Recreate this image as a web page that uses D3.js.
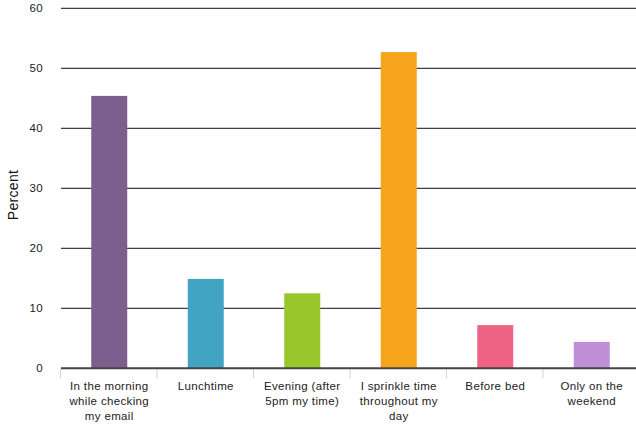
<!DOCTYPE html>
<html>
<head>
<meta charset="utf-8">
<script src="https://cdn.jsdelivr.net/npm/d3@7"></script>
<style>
  html, body { margin: 0; padding: 0; background: #fff; }
  svg { display: block; font-family: "Liberation Sans", Arial, Helvetica, sans-serif; }
</style>
</head>
<body>
<svg id="chart" width="636" height="425"></svg>
<script>
// When people take time for this: share of respondents, in percent
const categories = [
  ["In the morning", "while checking", "my email"],
  ["Lunchtime"],
  ["Evening (after", "5pm my time)"],
  ["I sprinkle time", "throughout my", "day"],
  ["Before bed"],
  ["Only on the", "weekend"]
];
const values = [45.4, 14.9, 12.5, 52.7, 7.2, 4.4];
const colors = ["#7C5F8E", "#41A4C3", "#97C72A", "#F5A41C", "#EF6485", "#BF90D8"];
const yTicks = [0, 10, 20, 30, 40, 50, 60];
const yTitle = "Percent";

const svg = d3.select("#chart");
const plotLeft = 61, plotRight = 640, plotTop = 8.3, plotBottom = 368.3;

const x = d3.scaleBand()
  .domain(d3.range(values.length))
  .range([plotLeft, plotRight])
  .paddingInner(0)
  .paddingOuter(0);

const y = d3.scaleLinear().domain([0, 60]).range([plotBottom, plotTop]);

// horizontal grid lines
svg.append("g")
  .selectAll("line")
  .data(yTicks.filter(d => d > 0))
  .join("line")
  .attr("x1", plotLeft).attr("x2", 636)
  .attr("y1", d => y(d)).attr("y2", d => y(d))
  .attr("stroke", "#111").attr("stroke-width", 1);

// y tick labels
svg.append("g")
  .selectAll("text")
  .data(yTicks)
  .join("text")
  .attr("x", 43)
  .attr("y", d => y(d))
  .attr("dy", "0.35em")
  .attr("text-anchor", "end")
  .attr("font-size", 11.5)
  .attr("letter-spacing", 0.3)
  .attr("fill", "#222")
  .text(d => d);

// y axis title
svg.append("text")
  .attr("transform", `translate(18,195) rotate(-90)`)
  .attr("text-anchor", "middle")
  .attr("font-size", 14)
  .attr("letter-spacing", 0.3)
  .attr("fill", "#111")
  .text(yTitle);

// bars
const barW = 36;
svg.append("g")
  .selectAll("rect")
  .data(values)
  .join("rect")
  .attr("x", (d, i) => x(i) + x.bandwidth() / 2 - barW / 2)
  .attr("width", barW)
  .attr("y", d => y(d))
  .attr("height", d => y(0) - y(d))
  .attr("fill", (d, i) => colors[i]);

// category separators below the baseline
svg.append("g")
  .selectAll("line")
  .data(d3.range(values.length + 1))
  .join("line")
  .attr("x1", i => (i < values.length ? x(i) : plotRight) - 0.5)
  .attr("x2", i => (i < values.length ? x(i) : plotRight) - 0.5)
  .attr("y1", plotBottom)
  .attr("y2", plotBottom + 10)
  .attr("stroke", "#cdd3ea").attr("stroke-width", 1);

// baseline
svg.append("line")
  .attr("x1", plotLeft).attr("x2", 636)
  .attr("y1", y(0)).attr("y2", y(0))
  .attr("stroke", "#444").attr("stroke-width", 2);

// category labels
const labels = svg.append("g")
  .selectAll("text")
  .data(categories)
  .join("text")
  .attr("x", (d, i) => x(i) + x.bandwidth() / 2)
  .attr("y", 386)
  .attr("text-anchor", "middle")
  .attr("font-size", 11.5)
  .attr("letter-spacing", 0.35)
  .attr("fill", "#222");

labels.selectAll("tspan")
  .data(d => d)
  .join("tspan")
  .attr("x", function () { return d3.select(this.parentNode).attr("x"); })
  .attr("dy", (d, i) => i === 0 ? "0.35em" : 15)
  .text(d => d);
</script>
</body>
</html>
